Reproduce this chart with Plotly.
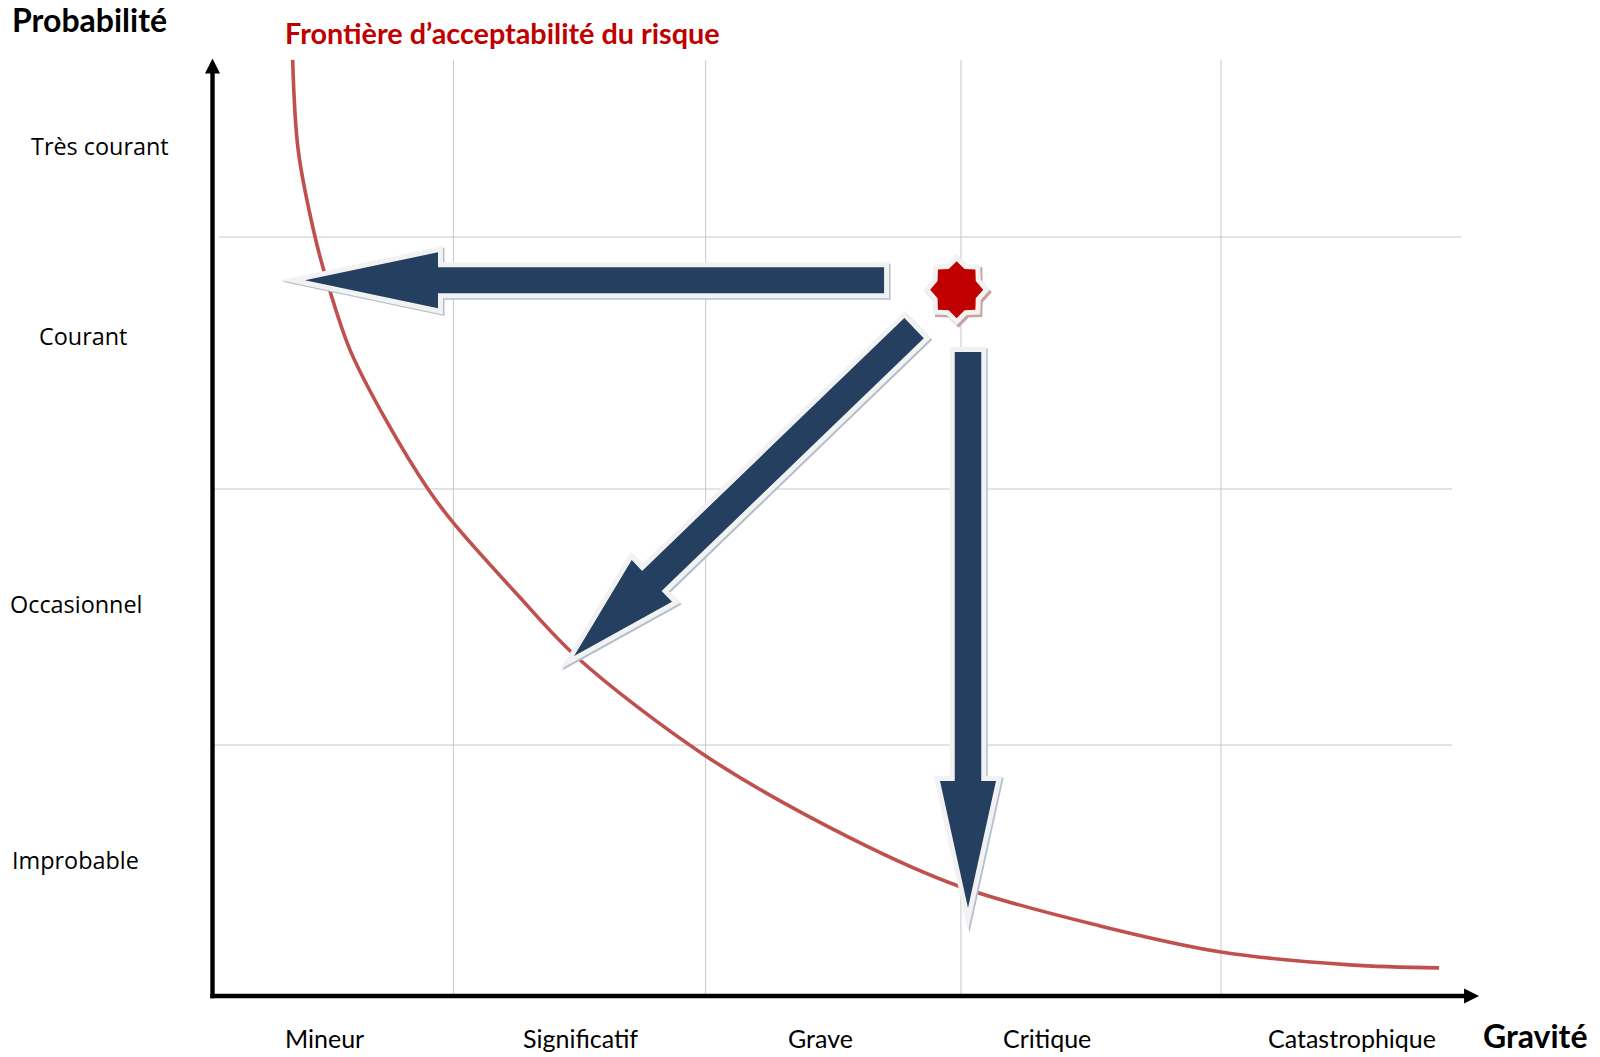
import numpy as np
import plotly.graph_objects as go

# ---------------- data ----------------
severity_labels = ["Mineur", "Significatif", "Grave", "Critique", "Catastrophique"]
severity_label_x = [0.444, 1.462, 2.411, 3.311, 4.520]
severity_label_y = -0.166

probability_labels = ["Très courant", "Courant", "Occasionnel", "Improbable"]
probability_label_x = [-0.448, -0.514, -0.542, -0.544]
probability_label_y = [3.360, 2.609, 1.550, 0.538]

grid_x = [0.956, 1.957, 2.970, 4.002]
grid_y = [0.992, 2.004, 3.000]
grid_y_start = [0.002, 0.002, 0.026]
grid_y_end = [4.920, 4.920, 4.956]
grid_top = 3.70

frontier_x = [0.318, 0.340, 0.407, 0.453, 0.546, 0.688, 0.855, 0.956, 1.204,
              1.445, 1.957, 2.530, 2.970, 3.522, 4.002, 4.514, 4.867]
frontier_y = [3.700, 3.344, 3.000, 2.830, 2.553, 2.277, 2.004, 1.870, 1.593,
              1.340, 0.949, 0.625, 0.431, 0.277, 0.174, 0.123, 0.111]

risk_x, risk_y = 2.953, 2.792

arrow_tail_x = [2.665, 2.784, 2.998]
arrow_tail_y = [2.829, 2.640, 2.545]
arrow_tip_x = [0.367, 1.435, 2.998]
arrow_tip_y = [2.829, 1.344, 0.348]

axis_y_tip = 3.706
axis_x_tip = 5.026

title_y_text = "Probabilité"
title_x_text = "Gravité"
frontier_title = "Frontière d’acceptabilité du risque"

# ---------------- layout / styles ----------------
FIG_W, FIG_H = 1600, 1057
X_RANGE = [-0.8433, 5.5060]
Y_RANGE = [-0.2411, 3.9368]
PX_X = FIG_W / (X_RANGE[1] - X_RANGE[0])
PX_Y = FIG_H / (Y_RANGE[1] - Y_RANGE[0])

ARROW_FILL = "#243f60"
OUTLINE = "#f2f2f2"
ARROW_SHADOW = "#b4bfcd"
STAR_FILL = "#c00000"
STAR_SHADOW = "#c9a2a2"
CURVE = "#c0504d"
GRID = "#c8c8c8"
shaft_w = [26, 28, 26.5]
head_w = [56, 58, 56]
head_len = [133, 108, 127]
OUT_W = 5


def arrow_poly(tx, ty, hx, hy, sw, hw, hl):
    T = np.array([tx * PX_X, ty * PX_Y])
    P = np.array([hx * PX_X, hy * PX_Y])
    d = (P - T) / np.linalg.norm(P - T)
    n = np.array([-d[1], d[0]])
    B = P - d * hl
    return np.array([T + n * sw / 2, B + n * sw / 2, B + n * hw / 2, P,
                     B - n * hw / 2, B - n * sw / 2, T - n * sw / 2])


def star_poly(cx, cy, rx, ry, inner=0.78, k=8):
    pts = []
    for i in range(2 * k):
        a = np.pi / 2 + i * np.pi / k
        r = 1.0 if i % 2 == 0 else inner
        pts.append([cx * PX_X + rx * r * np.cos(a), cy * PX_Y + ry * r * np.sin(a)])
    return np.array(pts)


def offset_poly(pts, w):
    n = len(pts)
    area = 0.0
    for i in range(n):
        x0, y0 = pts[i]
        x1, y1 = pts[(i + 1) % n]
        area += x0 * y1 - x1 * y0
    sign = 1.0 if area > 0 else -1.0
    out = []
    for i in range(n):
        p0, p1, p2 = pts[i - 1], pts[i], pts[(i + 1) % n]
        e1, e2 = p1 - p0, p2 - p1
        n1 = np.array([e1[1], -e1[0]]) / np.linalg.norm(e1) * sign
        n2 = np.array([e2[1], -e2[0]]) / np.linalg.norm(e2) * sign
        out.append(p1 + w * (n1 + n2) / (1 + n1 @ n2))
    return np.array(out)


def poly_trace(pts, color, dx=0.0, dy=0.0):
    xs = list((pts[:, 0] + dx) / PX_X) + [(pts[0, 0] + dx) / PX_X]
    ys = list((pts[:, 1] + dy) / PX_Y) + [(pts[0, 1] + dy) / PX_Y]
    return go.Scatter(x=xs, y=ys, mode="lines", fill="toself", fillcolor=color,
                      line=dict(width=0, color=color), hoverinfo="skip", showlegend=False)


fig = go.Figure()
shapes = []

# grid
for gx in grid_x:
    shapes.append(dict(type="line", xref="x", yref="y", x0=gx, x1=gx, y0=0, y1=grid_top,
                       line=dict(color=GRID, width=1), layer="below"))
for gy, s, e in zip(grid_y, grid_y_start, grid_y_end):
    shapes.append(dict(type="line", xref="x", yref="y", x0=s, x1=e, y0=gy, y1=gy,
                       line=dict(color=GRID, width=1), layer="below"))

# frontier curve
fig.add_trace(go.Scatter(x=frontier_x, y=frontier_y, mode="lines",
                         line=dict(color=CURVE, width=3.6, shape="spline", smoothing=0.95),
                         hoverinfo="skip", showlegend=False))

# axes
ax_head_len, ax_head_hw = 15, 7.5
shapes.append(dict(type="line", xref="x", yref="y", x0=0, x1=0, y0=-2.2 / PX_Y,
                   y1=axis_y_tip - (ax_head_len - 1) / PX_Y, line=dict(color="black", width=4.4)))
shapes.append(dict(type="line", xref="x", yref="y", x0=-2.2 / PX_X,
                   x1=axis_x_tip - (ax_head_len - 1) / PX_X, y0=0, y1=0,
                   line=dict(color="black", width=4.4)))
yh = np.array([[0 - ax_head_hw, axis_y_tip * PX_Y - ax_head_len], [0, axis_y_tip * PX_Y],
               [ax_head_hw, axis_y_tip * PX_Y - ax_head_len]])
xh = np.array([[axis_x_tip * PX_X - ax_head_len, ax_head_hw], [axis_x_tip * PX_X, 0],
               [axis_x_tip * PX_X - ax_head_len, -ax_head_hw]])
fig.add_trace(poly_trace(yh, "black"))
fig.add_trace(poly_trace(xh, "black"))

# arrows
for i in range(3):
    p = arrow_poly(arrow_tail_x[i], arrow_tail_y[i], arrow_tip_x[i], arrow_tip_y[i],
                   shaft_w[i], head_w[i], head_len[i])
    o = offset_poly(p, OUT_W)
    fig.add_trace(poly_trace(o, ARROW_SHADOW, dx=1.5, dy=-1.5))
    fig.add_trace(poly_trace(o, OUTLINE))
    fig.add_trace(poly_trace(p, ARROW_FILL))

# star
sp = star_poly(risk_x, risk_y, 26.5, 28.5)
so = offset_poly(sp, OUT_W)
fig.add_trace(poly_trace(so, STAR_SHADOW, dx=2, dy=-2.5))
fig.add_trace(poly_trace(so, OUTLINE))
fig.add_trace(poly_trace(sp, STAR_FILL))

annotations = []
for lab, x in zip(severity_labels, severity_label_x):
    annotations.append(dict(x=x, y=severity_label_y, text=lab, showarrow=False,
                            font=dict(family="Lato", size=25, color="black"),
                            xanchor="center", yanchor="middle"))
for lab, x, y in zip(probability_labels, probability_label_x, probability_label_y):
    annotations.append(dict(x=x, y=y, text=lab, showarrow=False,
                            font=dict(family="Open Sans", size=23.4, color="black"),
                            xanchor="center", yanchor="middle"))
annotations.append(dict(x=-0.490, xref="x", y=1.0, yref="paper", yshift=1.5,
                        text="<b>" + title_y_text + "</b>",
                        showarrow=False, font=dict(family="Lato", size=32, color="black"),
                        xanchor="center", yanchor="top", borderpad=0))
annotations.append(dict(x=5.248, xref="x", y=0.0, yref="paper", yshift=1.0,
                        text="<b>" + title_x_text + "</b>",
                        showarrow=False, font=dict(family="Lato", size=32, color="black"),
                        xanchor="center", yanchor="bottom", borderpad=0))
annotations.append(dict(x=1.149, y=3.808, text="<b>" + frontier_title + "</b>", showarrow=False,
                        font=dict(family="Lato", size=28.8, color="#c00000"),
                        xanchor="center", yanchor="middle"))

fig.update_layout(
    width=FIG_W, height=FIG_H, margin=dict(l=0, r=0, t=0, b=0),
    paper_bgcolor="white", plot_bgcolor="white", showlegend=False,
    xaxis=dict(range=X_RANGE, visible=False, fixedrange=True, domain=[0, 1]),
    yaxis=dict(range=Y_RANGE, visible=False, fixedrange=True, domain=[0, 1]),
    shapes=shapes, annotations=annotations, hovermode=False,
)
fig.write_html("out.html", config={"displayModeBar": False})
